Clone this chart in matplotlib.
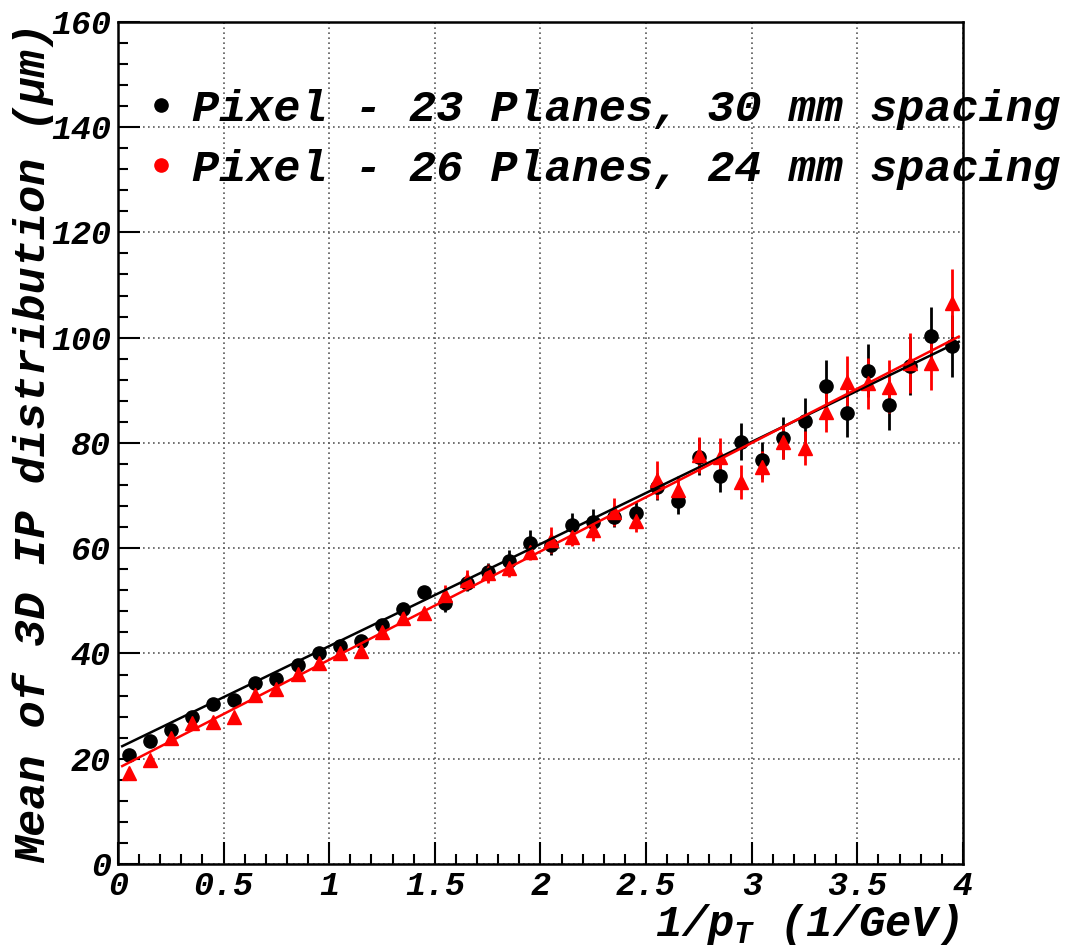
import numpy as np
import matplotlib
matplotlib.use("Agg")
import matplotlib.pyplot as plt
from matplotlib.lines import Line2D
from matplotlib.ticker import MultipleLocator

# 1/pT bin centres (1/GeV)
inv_pt = [0.05, 0.15, 0.25, 0.35, 0.45, 0.55, 0.65, 0.75, 0.85, 0.95,
          1.05, 1.15, 1.25, 1.35, 1.45, 1.55, 1.65, 1.75, 1.85, 1.95,
          2.05, 2.15, 2.25, 2.35, 2.45, 2.55, 2.65, 2.75, 2.85, 2.95,
          3.05, 3.15, 3.25, 3.35, 3.45, 3.55, 3.65, 3.75, 3.85, 3.95]

# Pixel - 23 planes, 30 mm spacing
mean_23 = [20.7, 23.4, 25.5, 27.9, 30.4, 31.2, 34.4, 35.1, 37.8, 40.1,
           41.4, 42.4, 45.4, 48.4, 51.7, 49.5, 53.3, 55.5, 57.6, 61.0,
           60.6, 64.4, 65.0, 66.0, 66.7, 71.7, 69.0, 77.4, 73.7, 80.2,
           76.7, 80.9, 84.2, 90.8, 85.6, 93.7, 87.2, 94.6, 100.3, 98.4]
err_23 = [0.3, 0.35, 0.4, 0.45, 0.5, 0.55, 0.6, 0.65, 0.7, 0.75,
          0.8, 0.85, 0.9, 1.2, 1.0, 1.7, 1.5, 1.7, 2.0, 2.4,
          1.9, 2.2, 2.5, 2.0, 2.0, 2.5, 2.5, 3.5, 3.0, 3.5,
          3.5, 4.0, 4.3, 4.9, 4.4, 5.0, 4.7, 5.5, 5.5, 5.9]

# Pixel - 26 planes, 24 mm spacing
mean_26 = [17.3, 19.8, 23.9, 26.7, 27.0, 28.0, 32.1, 33.2, 36.1, 38.1,
           40.0, 40.5, 44.1, 46.7, 47.6, 51.1, 54.0, 55.2, 56.2, 59.3,
           61.6, 62.2, 63.4, 66.9, 65.2, 72.9, 71.0, 77.7, 77.4, 72.6,
           75.5, 80.2, 79.0, 85.9, 91.6, 91.3, 90.7, 95.1, 95.1, 106.6]
err_26 = [0.3, 0.35, 0.4, 0.45, 0.5, 0.55, 0.6, 0.65, 0.7, 0.75,
          0.8, 0.85, 0.9, 1.1, 1.1, 1.9, 1.9, 1.8, 1.7, 1.6,
          2.5, 1.7, 2.0, 2.7, 2.2, 3.6, 2.7, 3.5, 3.6, 3.2,
          3.0, 3.2, 3.2, 3.8, 5.0, 4.9, 5.0, 5.7, 5.0, 6.5]

# linear fits (intercept, slope)
fit_23 = (22.0, 19.4)
fit_26 = (18.2, 20.6)
fit_range = (0.02, 3.98)

labels = ["Pixel - 23 Planes, 30 mm spacing",
          "Pixel - 26 Planes, 24 mm spacing"]

FONT = "Liberation Mono"
plt.rcParams["font.family"] = [FONT, "DejaVu Sans"]
plt.rcParams["font.weight"] = "bold"
plt.rcParams["font.style"] = "italic"
plt.rcParams["axes.labelweight"] = "bold"
plt.rcParams["mathtext.fontset"] = "custom"
plt.rcParams["mathtext.it"] = FONT + ":italic:bold"
plt.rcParams["mathtext.rm"] = FONT + ":italic:bold"

fig = plt.figure(figsize=(10.65, 9.47), dpi=100)
ax = fig.add_axes([0.1108, 0.0876, 0.7934, 0.8894])

ax.errorbar(inv_pt, mean_23, yerr=err_23, fmt="o", color="black",
            ecolor="black", elinewidth=2, markersize=9.5, capsize=0, zorder=3)
ax.errorbar(inv_pt, mean_26, yerr=err_26, fmt="^", color="red",
            ecolor="red", elinewidth=2, markersize=10, capsize=0, zorder=3)

xf = np.array(fit_range)
ax.plot(xf, fit_23[0] + fit_23[1] * xf, color="black", lw=1.8, zorder=4)
ax.plot(xf, fit_26[0] + fit_26[1] * xf, color="red", lw=1.8, zorder=4)

ax.set_xlim(0, 4)
ax.set_ylim(0, 160)
ax.xaxis.set_major_locator(MultipleLocator(0.5))
ax.xaxis.set_minor_locator(MultipleLocator(0.1))
ax.yaxis.set_major_locator(MultipleLocator(20))
ax.yaxis.set_minor_locator(MultipleLocator(4))
ax.set_xticks([0, 0.5, 1, 1.5, 2, 2.5, 3, 3.5, 4])
ax.set_xticklabels(["0", "0.5", "1", "1.5", "2", "2.5", "3", "3.5", "4"])
ax.tick_params(which="both", direction="in", top=False, right=False,
               labelsize=24, width=1.5, pad=5)
ax.tick_params(which="major", length=16)
ax.tick_params(which="minor", length=7)
for s in ax.spines.values():
    s.set_linewidth(1.8)

ax.grid(True, which="major", color="0.35", linestyle=(0, (1, 2)), lw=1.2)
ax.set_axisbelow(True)

ax.set_xlabel("1/$p_{T}$ (1/GeV)", fontsize=31.5, loc="right")
ax.xaxis.set_label_coords(0.995, -0.045)
ax.set_ylabel("Mean of 3D IP distribution (\u03bcm)", fontsize=32.5, loc="top")
ax.yaxis.set_label_coords(-0.075, 1.0)

handles = [Line2D([], [], marker="o", color="black", ls="none", markersize=9.5),
           Line2D([], [], marker="o", color="red", ls="none", markersize=9.5)]
ax.legend(handles, labels, loc="upper left", bbox_to_anchor=(0.031, 0.92),
          frameon=False, fontsize=32.5, handlelength=0.75, handletextpad=0.3,
          labelspacing=0.42, borderpad=0, borderaxespad=0)

fig.savefig("out.png", dpi=100)
